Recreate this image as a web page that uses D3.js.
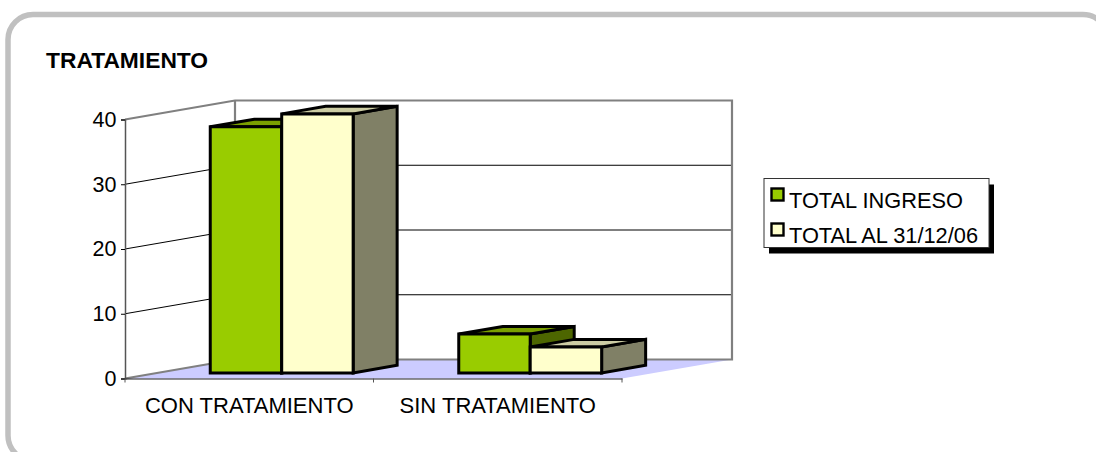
<!DOCTYPE html>
<html>
<head>
<meta charset="utf-8">
<style>
  html, body { margin: 0; padding: 0; background: #fff; overflow: hidden; }
  svg { display: block; }
  text { font-family: "Liberation Sans", Arial, sans-serif; fill: #000; }
</style>
</head>
<body>
<svg width="1096" height="452"></svg>
<script src="https://d3js.org/d3.v7.min.js"></script>
<script>

var categories = ["CON TRATAMIENTO", "SIN TRATAMIENTO"];
var seriesNames = ["TOTAL INGRESO", "TOTAL AL 31/12/06"];
var totalIngreso = [38, 6];
var totalAl = [40, 4];
var yTicks = [0, 10, 20, 30, 40];
var chartTitle = "TRATAMIENTO";

var seriesColors = [
  {front: "#99cc00", top: "#7a9f00", side: "#4d6600"},
  {front: "#ffffcc", top: "#cccca3", side: "#808066"}
];

var svg = d3.select("svg");

// outer frame runs off the right and bottom of the picture
svg.append("rect")
  .attr("x", 8).attr("y", 14.5)
  .attr("width", 1100).attr("height", 446)
  .attr("rx", 25).attr("ry", 25)
  .attr("fill", "#fff")
  .attr("stroke", "#c0c0c0")
  .attr("stroke-width", 5.5);

svg.append("text")
  .attr("x", 46).attr("y", 68)
  .style("font-size", "22.8px")
  .style("font-weight", "bold")
  .text(chartTitle);

// front plane of the plot, and the shift to the back wall
var x0 = d3.scaleBand().domain(categories).range([125, 622]);
var x1 = d3.scaleBand().domain(seriesNames).range([0, x0.bandwidth() * 0.575]);
var y = d3.scaleLinear().domain([0, 40]).range([378.5, 119.5]);
var depth = {x: 110, y: -19};

function project(px, py, d) {
  return [px + depth.x * d, py + depth.y * d];
}
function poly(points) {
  return "M" + points.join("L") + "Z";
}

var plot = svg.append("g");

// floor
plot.append("path")
  .attr("d", poly([project(125, y(0), 0), project(622, y(0), 0), project(622, y(0), 1), project(125, y(0), 1)]))
  .attr("fill", "#ccccff");

// gridlines: along the side wall, then along the back wall
yTicks.slice(1, -1).forEach(function(t) {
  plot.append("path")
    .attr("d", "M" + project(125, y(t), 0) + "L" + project(125, y(t), 1) + "L" + project(622, y(t), 1))
    .attr("fill", "none")
    .attr("stroke", "#000")
    .attr("stroke-width", 1);
});

// walls
plot.append("path")
  .attr("d", "M" + project(125, y(40), 0) + "L" + project(125, y(40), 1) + "L" + project(622, y(40), 1) + "L" + project(622, y(0), 1) + "L" + project(125, y(0), 1) + "L" + project(125, y(0), 0))
  .attr("fill", "none")
  .attr("stroke", "#808080")
  .attr("stroke-width", 2.2);
plot.append("path")
  .attr("d", "M" + project(125, y(40), 1) + "L" + project(125, y(0), 1))
  .attr("fill", "none")
  .attr("stroke", "#808080")
  .attr("stroke-width", 2.2);

// axes
var yAxis = plot.append("g")
  .attr("transform", "translate(125,0)")
  .call(d3.axisLeft(y).tickValues(yTicks).tickSize(4).tickPadding(4.5));
yAxis.selectAll("text").style("font-size", "21.5px").attr("font-family", null);
yAxis.select(".domain").attr("stroke", "#555").attr("stroke-width", 1.5);

var xAxis = plot.append("g")
  .attr("transform", "translate(0," + y(0) + ")")
  .call(d3.axisBottom(x0).tickSize(0).tickPadding(18.5));
xAxis.selectAll("text").style("font-size", "22px").attr("font-family", null);
xAxis.select(".domain").attr("stroke", "#222").attr("stroke-width", 1.2);

// band-edge tick marks
plot.selectAll(".edge-tick")
  .data(x0.domain().map(function(c) { return x0(c); }).concat(x0.range()[1]))
  .enter().append("line")
  .attr("class", "edge-tick")
  .attr("x1", function(d) { return d; })
  .attr("x2", function(d) { return d; })
  .attr("y1", y(0))
  .attr("y2", y(0) + 4)
  .attr("stroke", "#555");

// 3d columns
var dFront = 0.295, dBack = 0.695;

[totalIngreso, totalAl].forEach(function(values, s) {
  var col = seriesColors[s];
  values.forEach(function(v, i) {
    var left = x0(categories[i]) + x0.bandwidth() * 0.2125 + x1(seriesNames[s]);
    var right = left + x1.bandwidth();
    var g = plot.append("g")
      .attr("stroke", "#000")
      .attr("stroke-width", 3)
      .attr("stroke-linejoin", "miter");
    g.append("path")
      .attr("d", poly([project(right, y(v), dFront), project(right, y(v), dBack), project(right, y(0), dBack), project(right, y(0), dFront)]))
      .attr("fill", col.side);
    g.append("path")
      .attr("d", poly([project(left, y(v), dFront), project(left, y(v), dBack), project(right, y(v), dBack), project(right, y(v), dFront)]))
      .attr("fill", col.top);
    g.append("path")
      .attr("d", poly([project(left, y(v), dFront), project(right, y(v), dFront), project(right, y(0), dFront), project(left, y(0), dFront)]))
      .attr("fill", col.front);
  });
});

// legend
var legend = svg.append("g").attr("transform", "translate(764,178.5)");
legend.append("rect")
  .attr("x", 5).attr("y", 6)
  .attr("width", 225).attr("height", 69)
  .attr("fill", "#000");
legend.append("rect")
  .attr("width", 225).attr("height", 69)
  .attr("fill", "#fff")
  .attr("stroke", "#333")
  .attr("stroke-width", 1);

seriesNames.forEach(function(name, i) {
  legend.append("rect")
    .attr("x", 7.5).attr("y", 10 + i * 35)
    .attr("width", 12).attr("height", 12)
    .attr("fill", seriesColors[i].front)
    .attr("stroke", "#000")
    .attr("stroke-width", 2.4);
  legend.append("text")
    .attr("x", 25).attr("y", 29 + i * 35)
    .style("font-size", "21.8px")
    .text(name);
});

</script>
</body>
</html>
